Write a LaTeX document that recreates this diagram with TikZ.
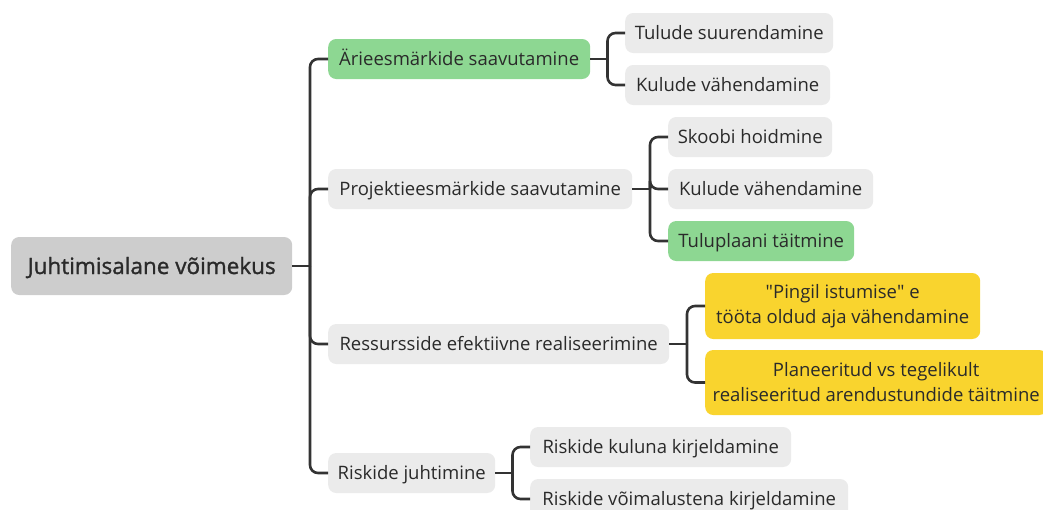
\documentclass[tikz,border=0pt]{standalone}
\usepackage{fontspec}
\setmainfont{Open Sans}
\newfontfamily\rootfont{Open Sans}[FakeBold=1.3]
\definecolor{inkc}{HTML}{2A2A2A}
\definecolor{linec}{HTML}{333333}
\definecolor{rootc}{HTML}{CDCDCD}
\definecolor{grayc}{HTML}{EBEBEB}
\definecolor{greenc}{HTML}{8DD792}
\definecolor{yellowc}{HTML}{F9D42E}
\tikzset{
  topicbase/.style={rectangle, rounded corners=8pt, anchor=west, inner xsep=0pt, inner ysep=0pt,
    minimum height=40pt, align=center, text=inkc, font=\fontsize{18.5}{25}\selectfont, fill=grayc},
  box/.style={topicbase, text height=17pt, text depth=3.8pt},
  greenbox/.style={box, fill=greenc},
  yellowbox/.style={topicbase, fill=yellowc},
  rootbox/.style={box, fill=rootc, minimum height=58pt, text height=19pt, text depth=3pt,
    font=\rootfont\fontsize{22.5}{26}\selectfont},
  conn/.style={draw=linec, line width=2.6pt, rounded corners=8pt},
}
\begin{document}
\begin{tikzpicture}[x=1pt,y=-1pt]
\useasboundingbox (0,0) rectangle (1043,509);
\clip (0,0) rectangle (1043,509);

% root topic
\node[rootbox, minimum width=281pt] (root) at (11,266) {Juhtimisalane võimekus};

% main branches
\node[greenbox, minimum width=262pt] (a1) at (328,59) {Ärieesmärkide saavutamine};
\node[box, minimum width=304pt] (a2) at (328,189) {Projektieesmärkide saavutamine};
\node[box, minimum width=341pt] (a3) at (328,344) {Ressursside efektiivne realiseerimine};
\node[box, minimum width=167pt] (a4) at (328,473) {Riskide juhtimine};

% sub-branches
\node[box, minimum width=208pt] (b1) at (625,33) {Tulude suurendamine};
\node[box, minimum width=205pt] (b2) at (625,85) {Kulude vähendamine};
\node[box, minimum width=164pt] (c1) at (668,137) {Skoobi hoidmine};
\node[box, minimum width=205pt] (c2) at (668,189) {Kulude vähendamine};
\node[greenbox, minimum width=186pt] (c3) at (668,241) {Tuluplaani täitmine};
\node[yellowbox, minimum width=275pt, minimum height=66pt] (d1) at (705,306) {\textquotedbl Pingil istumise\textquotedbl{} e\\tööta oldud aja vähendamine};
\node[yellowbox, minimum width=342pt, minimum height=65pt] (d2) at (705,382.5) {Planeeritud vs tegelikult\\realiseeritud arendustundide täitmine};
\node[box, minimum width=261pt] (e1) at (530,447) {Riskide kuluna kirjeldamine};
\node[box, minimum width=318pt] (e2) at (530,499) {Riskide võimalustena kirjeldamine};

% connectors: stub from the parent, then one elbow per child
\coordinate (jr) at (310,266);
\draw[conn] (root.east) -- (jr);
\foreach \c in {a1,a2,a3,a4} \draw[conn] (jr) |- (\c.west);

\coordinate (j1) at (607.5,59);
\draw[conn] (a1.east) -- (j1);
\foreach \c in {b1,b2} \draw[conn] (j1) |- (\c.west);

\coordinate (j2) at (650,189);
\draw[conn] (a2.east) -- (j2);
\foreach \c in {c1,c2,c3} \draw[conn] (j2) |- (\c.west);

\coordinate (j3) at (687,344);
\draw[conn] (a3.east) -- (j3);
\foreach \c in {d1,d2} \draw[conn] (j3) |- (\c.west);

\coordinate (j4) at (512.5,473);
\draw[conn] (a4.east) -- (j4);
\foreach \c in {e1,e2} \draw[conn] (j4) |- (\c.west);
\end{tikzpicture}
\end{document}
